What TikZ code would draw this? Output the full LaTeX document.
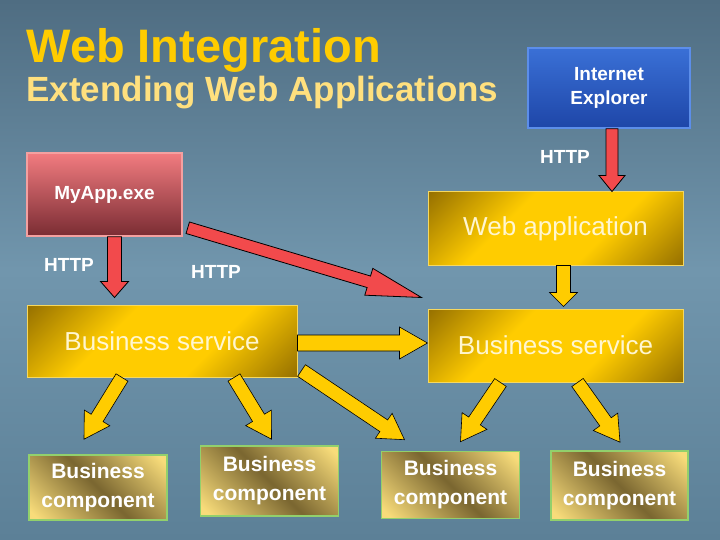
\documentclass[tikz,border=0pt]{standalone}
\usepackage{fontspec}
\setmainfont{Liberation Sans}
\usetikzlibrary{calc,positioning}

\definecolor{bgdark}{HTML}{4F6D82}
\definecolor{bglight}{HTML}{7196AD}
\definecolor{bglow}{HTML}{5C8097}
\definecolor{titleyellow}{HTML}{FFCC00}
\definecolor{subyellow}{HTML}{FFE07E}
\definecolor{iedark}{HTML}{1E46A8}
\definecolor{ielight}{HTML}{3A70D6}
\definecolor{ieedge}{HTML}{5C8EEA}
\definecolor{appred}{HTML}{F27C80}
\definecolor{appdark}{HTML}{7A2C33}
\definecolor{appedge}{HTML}{F4A0A0}
\definecolor{gold}{HTML}{FFCC00}
\definecolor{darkgold}{HTML}{8A6600}
\definecolor{goldedge}{HTML}{F6D860}
\definecolor{olive}{HTML}{7A6630}
\definecolor{sand}{HTML}{F8DC7A}
\definecolor{compedge}{HTML}{92D06C}
\definecolor{arrowred}{HTML}{F24A4C}
\definecolor{cream}{HTML}{FFF6D0}

\pgfdeclareverticalshading{goldshade}{100bp}{color(0bp)=(darkgold); color(12bp)=(darkgold);
  color(38bp)=(gold); color(62bp)=(gold); color(88bp)=(darkgold); color(100bp)=(darkgold)}
\pgfdeclareverticalshading{compshade}{100bp}{color(0bp)=(sand); color(18bp)=(sand);
  color(50bp)=(olive); color(82bp)=(sand); color(100bp)=(sand)}

\tikzstyle{goldbox} = [rectangle, draw=goldedge, line width=1pt, shading=goldshade,
                       shading angle=45, minimum width=255pt, minimum height=73pt,
                       inner sep=0pt, text=cream, font=\fontsize{26}{30}\selectfont]
\tikzstyle{compbox} = [rectangle, draw=compedge, line width=1.6pt, shading=compshade,
                       shading angle=-45, minimum width=138pt, minimum height=67pt,
                       inner sep=0pt, align=center, text=white,
                       font=\bfseries\fontsize{21}{29}\selectfont]
\tikzstyle{lbl}     = [text=white, font=\bfseries\fontsize{19}{22}\selectfont]
\tikzstyle{redarrow}  = [fill=arrowred, draw=black, line width=0.8pt]
\tikzstyle{goldarrow} = [fill=gold, draw=black, line width=0.6pt]

% style, from, to, half shaft, half head, head length
\newcommand{\fatarrow}[6]{%
  \path (#2) coordinate (fa-s) (#3) coordinate (fa-t) ($(#3)!#6!(#2)$) coordinate (fa-n);
  \draw[#1] ($(fa-s)!#4!90:(fa-t)$) -- ($(fa-n)!#4!90:(fa-t)$) -- ($(fa-n)!#5!90:(fa-t)$)
    -- (fa-t) -- ($(fa-n)!#5!-90:(fa-t)$) -- ($(fa-n)!#4!-90:(fa-t)$)
    -- ($(fa-s)!#4!-90:(fa-t)$) -- cycle;}

\begin{document}
\begin{tikzpicture}[x=1pt, y=-1pt]
  \useasboundingbox (0,0) rectangle (720,540);
  \fill[top color=bgdark, bottom color=bglow, middle color=bglight] (0,0) rectangle (720,540);

  \node[anchor=base west, text=titleyellow, font=\bfseries\fontsize{47}{50}\selectfont] (title) at (23,63) {Web Integration};
  \node[anchor=base west, text=subyellow, font=\bfseries\fontsize{35}{40}\selectfont] (subtitle) at (23,102) {Extending Web Applications};

  \node[rectangle, draw=ieedge, line width=1.5pt, top color=ielight, bottom color=iedark,
        minimum width=162pt, minimum height=80pt, align=center, text=white,
        font=\bfseries\fontsize{19}{24}\selectfont] (ie) at (609,88) {Internet\\Explorer};
  \node[rectangle, draw=appedge, line width=1.5pt, top color=appred, bottom color=appdark,
        minimum width=155pt, minimum height=83pt, text=white,
        font=\bfseries\fontsize{19}{22}\selectfont] (myapp) at (104.5,194.5) {MyApp.exe};

  \node[goldbox] (webapp) at (555.5,228.5) {Web application};
  \node[goldbox, minimum width=270pt, minimum height=72pt] (bsleft) at (162,341) {Business service};
  \node[goldbox] (bsright) at (555.5,345.5) {Business service};

  \node[compbox, minimum height=65pt] (bc1) at (98,487.5) {Business\\component};
  \node[compbox, minimum height=70pt] (bc2) at (269.5,481) {Business\\component};
  \node[compbox] (bc3) at (450.5,485) {Business\\component};
  \node[compbox, minimum width=137pt, minimum height=69pt] (bc4) at (619.5,485.5) {Business\\component};

  \node[lbl] (http1) at (565,157) {HTTP};
  \node[lbl] (http2) at (69,265) {HTTP};
  \node[lbl] (http3) at (216,272) {HTTP};

  \coordinate (ieout) at ($(ie.south)+(3,0)$);
  \coordinate (webin) at (ieout |- webapp.north);
  \coordinate (appout) at ($(myapp.south)+(10,0)$);
  \coordinate (bsin) at ($(appout |- bsleft.north)+(0,-7)$);
  \coordinate (appside) at ($(myapp.south east)+(5,-9)$);
  \coordinate (webside) at ($(webapp.south west)+(-6,32)$);
  \coordinate (webout) at ($(webapp.south)+(8,0)$);
  \coordinate (bsrin) at ($(webout |- bsright.north)+(0,-2)$);
  \coordinate (bsout) at ($(bsleft.east)+(0,2)$);
  \coordinate (bsrside) at (bsout -| bsright.west);

  \fatarrow{redarrow}{ieout}{webin}{6pt}{13pt}{16pt}
  \fatarrow{redarrow}{appout}{bsin}{7pt}{14pt}{16pt}
  \fatarrow{redarrow}{appside}{webside}{6pt}{14pt}{55pt}
  \fatarrow{goldarrow}{webout}{bsrin}{7pt}{14pt}{14pt}
  \fatarrow{goldarrow}{bsout}{bsrside}{8pt}{16pt}{28pt}

  \coordinate (a1) at ($(bsleft.south)+(-40,0)$);
  \coordinate (a2) at ($(bsleft.south)+(72,0)$);
  \coordinate (a3) at ($(bsleft.south east)+(4,-7)$);
  \coordinate (a4) at ($(bsright.south)+(-55,0)$);
  \coordinate (a5) at ($(bsright.south)+(22,0)$);
  \coordinate (t1) at ($(bc1.north)+(-14,-15)$);
  \coordinate (t2) at ($(bc2.north)+(2,-6)$);
  \coordinate (t3) at ($(bc3.north)+(-46,-11)$);
  \coordinate (t4) at ($(bc3.north)+(10,-9)$);
  \coordinate (t5) at ($(bc4.north)+(0.5,-8)$);
  \foreach \s/\t in {a1/t1, a2/t2, a3/t3, a4/t4, a5/t5}
    \fatarrow{goldarrow}{\s}{\t}{7pt}{15pt}{25pt};
\end{tikzpicture}
\end{document}
